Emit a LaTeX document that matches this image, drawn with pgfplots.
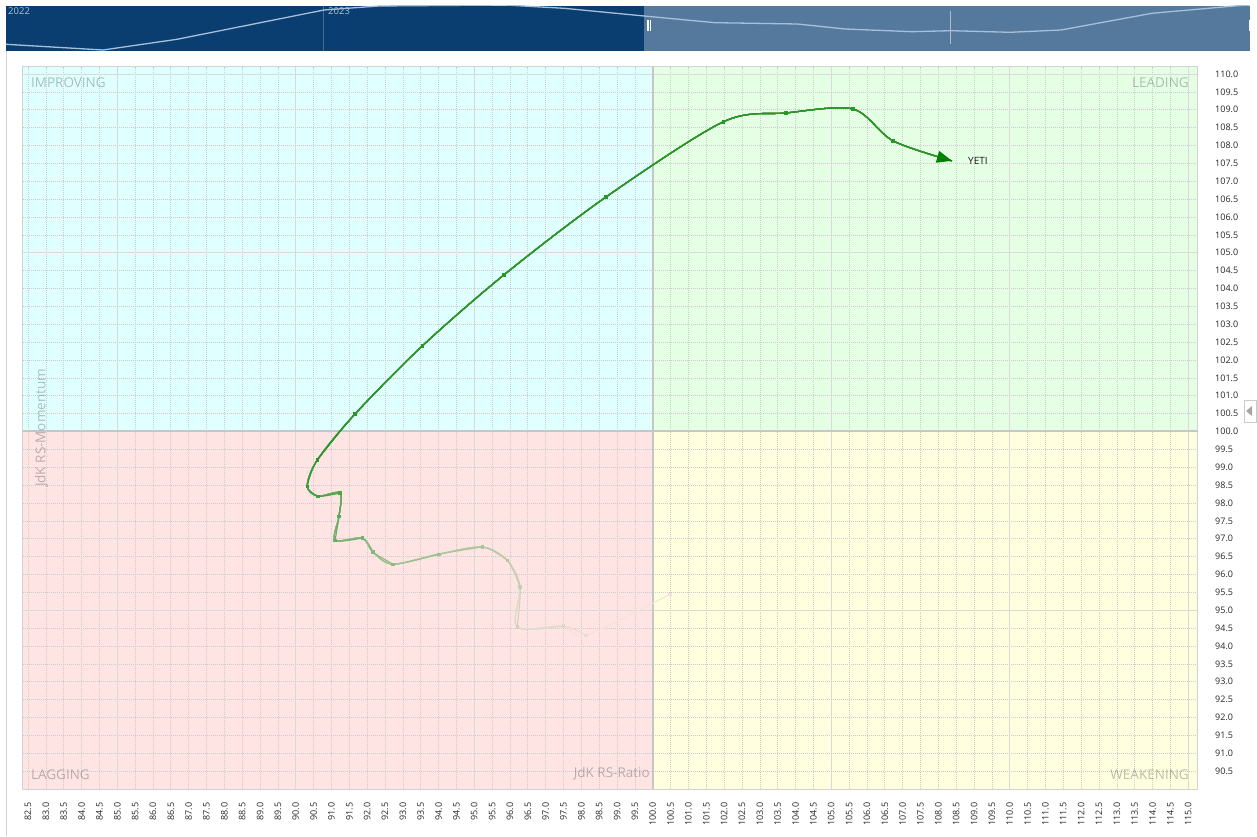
\documentclass[border=0pt]{standalone}
\usepackage{pgfplots}
\pgfplotsset{compat=1.18}
\usepackage{pgfplotstable}
\usepackage{fontspec}
\setmainfont{Open Sans}
\usetikzlibrary{arrows.meta}

\definecolor{impbg}{RGB}{224,255,255}
\definecolor{leadbg}{RGB}{229,255,229}
\definecolor{lagbg}{RGB}{255,228,228}
\definecolor{weakbg}{RGB}{255,255,224}
\definecolor{rrg}{RGB}{40,150,40}
\definecolor{arrowg}{RGB}{0,128,0}
\definecolor{navdark}{RGB}{11,62,112}
\definecolor{navlight}{RGB}{85,121,157}
\definecolor{navline}{RGB}{166,192,218}

\pgfplotstableread{
x y
100.48 95.45
98.13 94.30
97.49 94.56
96.20 94.53
96.28 95.67
95.92 96.40
95.22 96.77
94.01 96.57
92.72 96.29
92.16 96.63
91.86 97.02
91.10 96.96
91.21 97.63
91.24 98.28
90.62 98.19
90.32 98.47
90.60 99.20
91.66 100.49
93.54 102.39
95.83 104.38
98.69 106.56
101.97 108.66
103.73 108.91
105.61 109.02
106.73 108.13
108.38 107.57
}\tail

% same points without the head (marks only)
\pgfplotstableread{
x y
100.48 95.45
98.13 94.30
97.49 94.56
96.20 94.53
96.28 95.67
95.92 96.40
95.22 96.77
94.01 96.57
92.72 96.29
92.16 96.63
91.86 97.02
91.10 96.96
91.21 97.63
91.24 98.28
90.62 98.19
90.32 98.47
90.60 99.20
91.66 100.49
93.54 102.39
95.83 104.38
98.69 106.56
101.97 108.66
103.73 108.91
105.61 109.02
106.73 108.13
}\tailm

\pgfplotstableread{
x y
0 6.7
97 1
171 11.7
318 41
373 45
499 46
558 42.7
638 35
709 28.3
791.5 27
839 22
906 19.3
945 20.3
1004 18.7
1055 21
1146 37.7
1228.5 45
1244 46
}\navdata

\newcommand\tailseg[2]{%
  \addplot[smooth, line width=1.1pt, color=rrg!#2!lagbg, no marks,
    skip coords between index={0}{#1}] table {\tail};
  \addplot[only marks, color=rrg!#2!lagbg, mark=square*, mark size=1.4pt,
    skip coords between index={0}{#1}] table {\tailm};}

\tikzset{qlab/.style={font=\fontsize{13.5}{15}\selectfont, text=black, text opacity=0.25, inner sep=0pt}}

\begin{document}
\begin{tikzpicture}
\draw[gray!35, line width=1pt] (6.5pt,-51pt) -- (6.5pt,-836pt);
\draw[gray!40, fill=white] (1244pt,-400pt) rectangle (1256.5pt,-422pt);
\fill[gray!70] (1246pt,-411pt) -- (1252pt,-406pt) -- (1252pt,-416pt) -- cycle;

% navigator
\begin{axis}[at={(6pt,-51pt)}, anchor=south west, width=1244pt, height=45pt,
  scale only axis, xmin=0, xmax=1244, ymin=0, ymax=45, hide axis, clip=true]
\addplot[fill=navdark, draw=none] coordinates {(0,0) (638,0) (638,45) (0,45)} -- cycle;
\addplot[fill=navlight, draw=none] coordinates {(638,0) (1244,0) (1244,45) (638,45)} -- cycle;
\draw[white, opacity=0.25] (axis cs:317,0) -- (axis cs:317,45);
\draw[white, opacity=0.5] (axis cs:944,7) -- (axis cs:944,40);
\addplot[navline, line width=1.3pt] table {\navdata};
\draw[white!80, line width=0.5pt] (axis cs:641,20) -- (axis cs:641,31);
\draw[white!80, line width=0.5pt] (axis cs:642.7,20) -- (axis cs:642.7,31);
\draw[white!80, line width=0.5pt] (axis cs:644.4,20) -- (axis cs:644.4,31);
\draw[white!80, line width=0.6pt] (axis cs:1243,20) -- (axis cs:1243,31);
\node[anchor=north west, inner sep=1pt, font=\fontsize{9.5}{11}\selectfont, text=navline] at (axis cs:1,45) {2022};
\node[anchor=north west, inner sep=1pt, font=\fontsize{9.5}{11}\selectfont, text=navline] at (axis cs:321,45) {2023};
\end{axis}

% main RRG axis
\begin{axis}[at={(22.7pt,-789pt)}, anchor=south west, width=1175pt, height=722.3pt,
  scale only axis, set layers,
  xmin=82.35, xmax=115.265, ymin=90, ymax=110.204,
  xtick={82.5,83.0,...,115.0}, ytick={90.5,91.0,...,110.0},
  major tick length=0pt,
  grid=major,
  major grid style={gray!40, line width=0.7pt, dash pattern=on 1pt off 1pt},
  extra x ticks={85,90,95,105,110,115}, extra y ticks={95,105,110},
  extra x tick labels={}, extra y tick labels={},
  extra tick style={grid=major, major grid style={solid, gray!30, line width=0.8pt}},
  axis line style={gray!35, line width=0.8pt},
  yticklabel pos=right,
  xticklabel shift=10pt, yticklabel shift=14pt,
  tick label style={font=\fontsize{9}{10}\selectfont, text=black!85},
  xticklabel style={rotate=90, anchor=east},
  yticklabel style={anchor=west},
  /pgf/number format/fixed, /pgf/number format/fixed zerofill,
  /pgf/number format/precision=1, /pgf/number format/assume math mode=true,
]
\addplot[on layer=axis background, fill=impbg, draw=none] coordinates {(82.35,100) (100,100) (100,110.204) (82.35,110.204)} -- cycle;
\addplot[on layer=axis background, fill=leadbg, draw=none] coordinates {(100,100) (115.265,100) (115.265,110.204) (100,110.204)} -- cycle;
\addplot[on layer=axis background, fill=lagbg, draw=none] coordinates {(82.35,90) (100,90) (100,100) (82.35,100)} -- cycle;
\addplot[on layer=axis background, fill=weakbg, draw=none] coordinates {(100,90) (115.265,90) (115.265,100) (100,100)} -- cycle;

\draw[gray!45, line width=2pt] (axis cs:100,90) -- (axis cs:100,110.204);
\draw[gray!45, line width=2pt] (axis cs:82.35,100) -- (axis cs:115.265,100);

\node[qlab, anchor=west] at (axis cs:82.58,109.75) {IMPROVING};
\node[qlab, anchor=east] at (axis cs:115.02,109.75) {LEADING};
\node[qlab, anchor=west] at (axis cs:82.58,90.40) {LAGGING};
\node[qlab, anchor=east] at (axis cs:115.02,90.40) {WEAKENING};
\node[qlab, anchor=east] at (axis cs:99.92,90.42) {JdK RS-Ratio};
\node[qlab, rotate=90] at (axis cs:82.88,100.1) {JdK RS-Momentum};

\tailseg{0}{4}
\tailseg{1}{10}
\tailseg{2}{16}
\tailseg{3}{22}
\tailseg{4}{28}
\tailseg{5}{34}
\tailseg{6}{40}
\tailseg{7}{46}
\tailseg{8}{52}
\tailseg{9}{58}
\tailseg{10}{64}
\tailseg{11}{70}
\tailseg{12}{76}
\tailseg{13}{82}
\tailseg{14}{88}
\tailseg{15}{94}
\tailseg{16}{100}
\addplot[smooth, line width=1.1pt, color=rrg, no marks,
  -{Triangle[length=15pt, width=12pt, color=arrowg, fill=arrowg]},
  skip coords between index={0}{16}] table {\tail};
\addplot[only marks, color=rrg, mark=square*, mark size=1.4pt,
  skip coords between index={0}{16}] table {\tailm};

\node[anchor=west, inner sep=0pt, font=\fontsize{10}{12}\selectfont, text=black!90] at (axis cs:108.83,107.57) {YETI};
\end{axis}
\path (0pt,0pt) rectangle (1257pt,-836pt);
\end{tikzpicture}
\end{document}
